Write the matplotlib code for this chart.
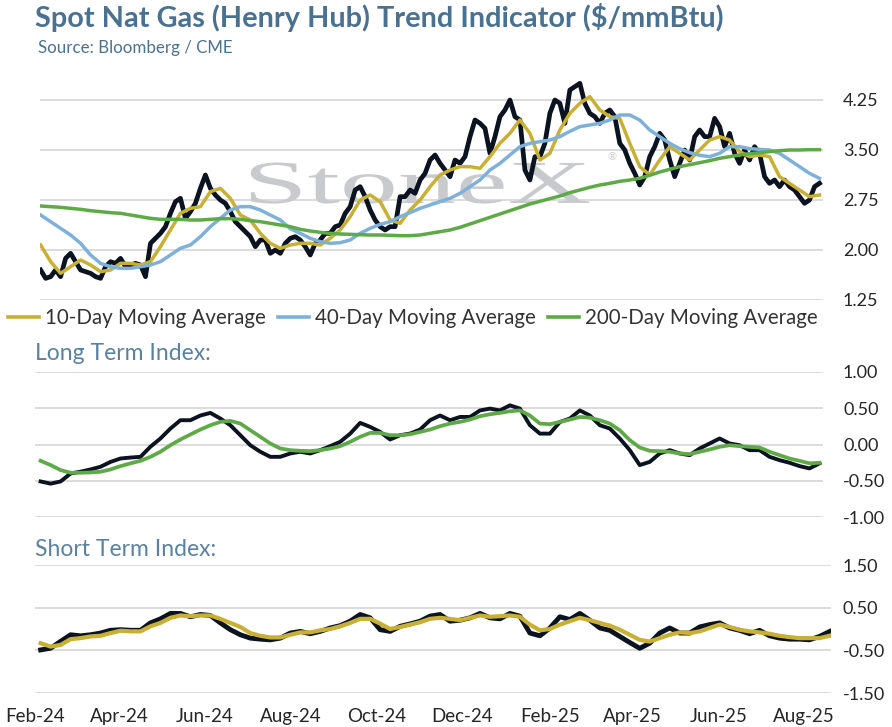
import numpy as np
import pandas as pd
import matplotlib
matplotlib.use("Agg")
import matplotlib.pyplot as plt
import matplotlib.dates as mdates
from matplotlib.lines import Line2D
from matplotlib.patheffects import AbstractPathEffect
from matplotlib.transforms import Affine2D
from matplotlib.ticker import FormatStrFormatter

plt.rcParams['font.family'] = ['Lato', 'DejaVu Sans']

# ---- data ----
spot_dates = pd.date_range("2024-02-05", "2025-08-12", periods=157)
spot = [
    1.70, 1.575, 1.60, 1.70, 1.60, 1.875, 1.95, 1.825, 1.70, 1.675, 1.65, 1.60, 1.575,
    1.75, 1.825, 1.80, 1.875, 1.75, 1.775, 1.80, 1.775, 1.60, 2.10, 2.175, 2.25, 2.35,
    2.55, 2.725, 2.775, 2.475, 2.575, 2.70, 2.925, 3.125, 2.925, 2.825, 2.75, 2.70, 2.575,
    2.425, 2.35, 2.275, 2.20, 2.05, 2.15, 2.15, 1.95, 2.00, 1.95, 2.10, 2.175, 2.20,
    2.15, 2.05, 1.925, 2.10, 2.15, 2.25, 2.25, 2.35, 2.375, 2.55, 2.65, 2.90, 2.95, 2.80,
    2.60, 2.45, 2.35, 2.30, 2.35, 2.35, 2.80, 2.80, 2.90, 2.85, 3.05, 3.15, 3.35, 3.425,
    3.30, 3.20, 3.10, 3.35, 3.30, 3.40, 3.70, 3.95, 3.90, 3.825, 3.45, 3.70, 4.00, 4.10,
    4.25, 4.00, 3.95, 3.20, 3.05, 3.40, 3.40, 3.60, 4.05, 4.25, 4.20,
    3.90, 4.40, 4.45, 4.50, 4.20, 4.05, 4.00, 3.90, 4.05, 4.10, 4.00, 3.60, 3.50, 3.30,
    3.15, 2.975, 3.10, 3.40, 3.55, 3.75, 3.65, 3.35, 3.10, 3.30, 3.50, 3.35, 3.70, 3.80,
    3.70, 3.70, 3.975, 3.85, 3.55, 3.75, 3.45, 3.30, 3.50, 3.35, 3.55, 3.45, 3.10, 3.00,
    3.05, 2.95, 3.05, 2.95, 2.90, 2.80, 2.70, 2.75, 2.95, 3.00,
]

ma_dates = pd.date_range("2024-02-05", "2025-08-12", periods=79)
ma10 = [
    2.075, 1.825, 1.65, 1.75, 1.85, 1.775, 1.675, 1.70, 1.80, 1.80, 1.775, 1.825, 2.05,
    2.30, 2.55, 2.625, 2.65, 2.875, 2.925, 2.775, 2.525, 2.45, 2.25, 2.10, 2.025, 2.075,
    2.10, 2.10, 2.075, 2.175, 2.30, 2.50, 2.75, 2.825, 2.725, 2.45, 2.40, 2.60, 2.75, 2.95,
    3.125, 3.20, 3.25, 3.25, 3.225, 3.40, 3.60, 3.75, 3.95, 3.75, 3.35,
    3.45, 3.80, 4.05, 4.20, 4.30, 4.10, 4.00, 3.975, 3.60, 3.25, 3.125, 3.35, 3.55, 3.45,
    3.35, 3.50, 3.65, 3.70, 3.65, 3.475, 3.40, 3.425, 3.40, 3.10, 3.00, 2.90, 2.80, 2.825,
]
ma40 = [
    2.525, 2.425, 2.325, 2.225, 2.10, 1.925, 1.80, 1.75, 1.725, 1.725, 1.75, 1.775, 1.825,
    1.925, 2.025, 2.075, 2.20, 2.35, 2.475, 2.60, 2.65, 2.65, 2.60, 2.525, 2.45, 2.32,
    2.25, 2.175, 2.125, 2.10, 2.11, 2.15, 2.25, 2.325, 2.385, 2.425, 2.50, 2.56, 2.625, 2.675,
    2.725, 2.775, 2.85, 2.95, 3.05, 3.20, 3.30, 3.425, 3.55, 3.60, 3.625, 3.65, 3.70, 3.78,
    3.85, 3.875, 3.90, 3.95, 4.025, 4.025, 3.95, 3.80, 3.70, 3.60, 3.52, 3.46, 3.42, 3.40,
    3.45, 3.55, 3.55, 3.52, 3.51, 3.50, 3.45, 3.35, 3.25, 3.15, 3.075,
]
ma200 = [
    2.66, 2.65, 2.64, 2.625, 2.61, 2.59, 2.575, 2.56, 2.55, 2.525, 2.50, 2.475, 2.46,
    2.46, 2.46, 2.45, 2.45, 2.46, 2.47, 2.47, 2.46, 2.44, 2.425, 2.40, 2.375, 2.35,
    2.31, 2.285, 2.265, 2.25, 2.24, 2.235, 2.23, 2.225, 2.225, 2.22, 2.215, 2.215, 2.225, 2.25,
    2.275, 2.30, 2.34, 2.39, 2.44, 2.49, 2.54, 2.59, 2.64, 2.69, 2.73, 2.77, 2.81, 2.86,
    2.90, 2.94, 2.975, 3.00, 3.03, 3.05, 3.075, 3.12, 3.17, 3.21, 3.25, 3.28, 3.31, 3.34,
    3.375, 3.40, 3.425, 3.445, 3.46, 3.475, 3.49, 3.50, 3.50, 3.505, 3.505,
]

long_idx = [
    -0.51, -0.54, -0.51, -0.40, -0.375, -0.344, -0.307, -0.24, -0.193, -0.18, -0.17,
    -0.03, 0.083, 0.22, 0.335, 0.335, 0.40, 0.436, 0.358, 0.266, 0.128, -0.01, -0.10,
    -0.17, -0.17, -0.124, -0.10, -0.124, -0.078, -0.023, 0.037, 0.15, 0.298, 0.243,
    0.174, 0.069, 0.128, 0.151, 0.206, 0.335, 0.40,
    0.335, 0.38, 0.38, 0.47, 0.495, 0.47, 0.54, 0.495, 0.266, 0.15, 0.15, 0.31, 0.358,
    0.47, 0.40, 0.266, 0.22, 0.083, -0.078, -0.284, -0.24, -0.124, -0.078, -0.124,
    -0.147, -0.055, 0.014, 0.083, 0.014, -0.01, -0.078, -0.078, -0.17, -0.216, -0.252,
    -0.298, -0.33, -0.26,
]
long_avg = [
    -0.225, -0.284, -0.353, -0.39, -0.39, -0.385, -0.376, -0.344, -0.298, -0.26, -0.225,
    -0.17, -0.10, -0.01, 0.069, 0.138, 0.206, 0.266, 0.312, 0.326, 0.289, 0.197, 0.106,
    0.014, -0.055, -0.078, -0.087, -0.092, -0.078, -0.055, -0.023, 0.037, 0.106, 0.16,
    0.16, 0.128, 0.128, 0.142, 0.174, 0.206, 0.252,
    0.289, 0.312, 0.344, 0.39, 0.417, 0.436, 0.459, 0.47, 0.40, 0.289, 0.28, 0.312, 0.344,
    0.38, 0.37, 0.335, 0.289, 0.197, 0.06, -0.041, -0.087, -0.092, -0.10, -0.124, -0.133,
    -0.10, -0.069, -0.032, -0.01, -0.023, -0.032, -0.041, -0.10, -0.147, -0.193, -0.225,
    -0.26, -0.252,
]

short_dates = pd.date_range("2024-02-05", "2025-08-19", periods=80)
short_idx = [
    -0.49, -0.45, -0.29, -0.135, -0.16, -0.135, -0.095, -0.03, -0.016, -0.03, -0.03,
    0.143, 0.238, 0.365, 0.365, 0.286, 0.34, 0.317, 0.143, -0.016, -0.135, -0.214,
    -0.238, -0.254, -0.214, -0.095, -0.056, -0.111, -0.056, 0.024, 0.079, 0.183, 0.34,
    0.262, -0.016, -0.056, 0.063, 0.119, 0.183, 0.302,
    0.34, 0.183, 0.206, 0.262, 0.365, 0.262, 0.238, 0.365, 0.30, -0.095, -0.159, 0.024,
    0.286, 0.222, 0.365, 0.206, 0.024, -0.032, -0.175, -0.317, -0.452, -0.333, -0.095,
    0.024, -0.095, -0.095, 0.048, 0.103, 0.143, 0.024, -0.032, -0.111, -0.032, -0.159,
    -0.214, -0.238, -0.238, -0.254, -0.175, -0.06,
]
short_avg = [
    -0.333, -0.413, -0.373, -0.238, -0.214, -0.175, -0.159, -0.095, -0.04, -0.056, -0.056,
    0.063, 0.143, 0.262, 0.317, 0.30, 0.317, 0.317, 0.238, 0.143, 0.048, -0.095, -0.159,
    -0.198, -0.198, -0.135, -0.079, -0.079, -0.032, 0.0, 0.063, 0.143, 0.238, 0.238,
    0.127, 0.0, 0.048, 0.103, 0.159, 0.238,
    0.262, 0.238, 0.206, 0.262, 0.317, 0.286, 0.30, 0.317, 0.286, 0.103, -0.032, 0.0,
    0.103, 0.183, 0.262, 0.206, 0.143, 0.079, -0.016, -0.135, -0.254, -0.294, -0.214,
    -0.135, -0.079, -0.095, -0.056, 0.024, 0.103, 0.048, -0.016, -0.056, -0.079, -0.111,
    -0.159, -0.19, -0.214, -0.214, -0.214, -0.159,
]

top_ticks = [1.25, 2.00, 2.75, 3.50, 4.25]
long_ticks = [-1.0, -0.5, 0.0, 0.5, 1.0]
short_ticks = [-1.5, -0.5, 0.5, 1.5]

# ---- style ----
C_SPOT = '#0B1320'
C_MA10 = '#C8B034'
C_MA40 = '#7DB1D9'
C_MA200 = '#5EAA47'
C_TITLE = '#4A7290'
C_SUB = '#5A82A0'
C_GRID = '#D9D9D9'
C_TXT = '#262626'

W, H = 892, 727
fig = plt.figure(figsize=(W / 100, H / 100), dpi=100)


def add_ax(left, top, right, bottom):
    return fig.add_axes([left / W, 1 - bottom / H, (right - left) / W, (bottom - top) / H])


class Stretch(AbstractPathEffect):
    """stretch the glyphs horizontally (for the watermark)"""
    def __init__(self, sx):
        super().__init__()
        self.sx = sx

    def draw_path(self, renderer, gc, tpath, affine, rgbFace=None):
        renderer.draw_path(gc, tpath, Affine2D().scale(self.sx, 1.0) + affine, rgbFace)


def style(ax, ticks, pad):
    for s in ax.spines.values():
        s.set_visible(False)
    ax.set_yticks(ticks)
    ax.yaxis.set_major_formatter(FormatStrFormatter('%.2f'))
    ax.yaxis.tick_right()
    ax.tick_params(axis='y', length=0, pad=pad, labelsize=13, labelcolor=C_TXT)
    ax.grid(axis='y', color=C_GRID, lw=1.3)
    ax.set_axisbelow(True)


# top panel
ax1 = add_ax(40, 76, 823, 300)
ax1.plot(spot_dates, spot, color=C_SPOT, lw=3.4, solid_joinstyle='round', zorder=3)
l10, = ax1.plot(ma_dates, ma10, color=C_MA10, lw=2.5, zorder=4)
l40, = ax1.plot(ma_dates, ma40, color=C_MA40, lw=2.5, zorder=4)
l200, = ax1.plot(ma_dates, ma200, color=C_MA200, lw=2.5, zorder=4)
ax1.set_ylim(1.25, 4.61)
ax1.set_xlim(pd.Timestamp("2024-02-04 13:00"), pd.Timestamp("2025-08-14 12:00"))
ax1.set_xticks([])
style(ax1, top_ticks, 14.4)

ax1.text(243 / W, 1 - 203 / H, 'StoneX', transform=fig.transFigure, fontsize=44,
         family='Liberation Serif', color='#C9CACD', ha='left', va='baseline',
         zorder=1, path_effects=[Stretch(1.9)])
ax1.text(612 / W, 1 - 157 / H, '®', transform=fig.transFigure, fontsize=8,
         family='DejaVu Sans', color='#C9CACD', ha='center', va='center', zorder=1)

# long term panel
ax2 = add_ax(35, 372, 823, 517)
ax2.plot(ma_dates, long_idx, color=C_SPOT, lw=2.8, zorder=3)
ax2.plot(ma_dates, long_avg, color=C_MA200, lw=2.7, zorder=4)
ax2.set_ylim(-1, 1)
ax2.set_xlim(pd.Timestamp("2024-02-01"), pd.Timestamp("2025-08-14 12:00"))
ax2.set_xticks([])
style(ax2, long_ticks, 14.4)

# short term panel
ax3 = add_ax(35, 565, 831, 693)
ax3.plot(short_dates, short_idx, color=C_SPOT, lw=3.5, zorder=3)
ax3.plot(short_dates, short_avg, color=C_MA10, lw=3.0, zorder=4)
ax3.set_ylim(-1.5, 1.5)
ax3.set_xlim(pd.Timestamp("2024-02-01"), pd.Timestamp("2025-08-20 02:00"))
style(ax3, short_ticks, 8.6)
ax3.xaxis.set_major_locator(mdates.MonthLocator(bymonth=[2, 4, 6, 8, 10, 12]))
ax3.xaxis.set_major_formatter(mdates.DateFormatter('%b-%y'))
ax3.tick_params(axis='x', length=0, pad=11, labelsize=13.5, labelcolor=C_TXT)

# texts
fig.text(35 / W, 1 - 18 / H, 'Spot Nat Gas (Henry Hub) Trend Indicator ($/mmBtu)',
         fontsize=20.8, fontweight='bold', color=C_TITLE, va='center', ha='left')
fig.text(38 / W, 1 - 48 / H, 'Source: Bloomberg / CME', fontsize=12.2,
         color=C_TITLE, va='center', ha='left')
fig.text(35 / W, 1 - 353 / H, 'Long Term Index:', fontsize=16.5, color=C_SUB,
         va='center', ha='left')
fig.text(35 / W, 1 - 550 / H, 'Short Term Index:', fontsize=16.5, color=C_SUB,
         va='center', ha='left')

handles = [Line2D([], [], color=C_MA10, lw=2.6),
           Line2D([], [], color=C_MA40, lw=2.6),
           Line2D([], [], color=C_MA200, lw=2.6)]
fig.legend(handles, ['10-Day Moving Average', '40-Day Moving Average', '200-Day Moving Average'],
           loc='center', bbox_to_anchor=(413 / W, 1 - 318 / H), ncol=3, frameon=False,
           fontsize=14.8, handlelength=1.5, handletextpad=0.3, columnspacing=0.6,
           borderpad=0, borderaxespad=0, labelcolor='#333333')

fig.savefig('out.png', dpi=100)
